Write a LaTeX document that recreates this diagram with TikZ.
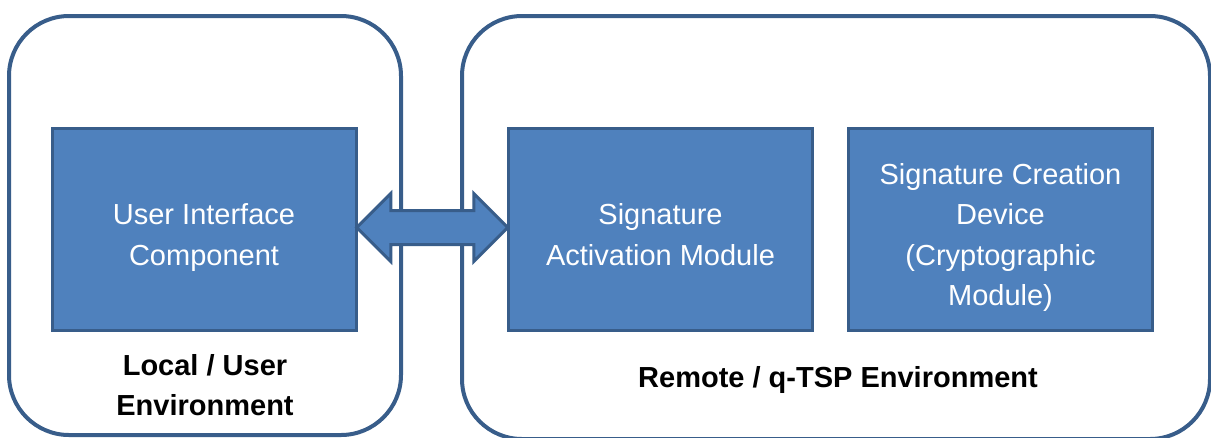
\documentclass[tikz,border=0pt]{standalone}
\usepackage{fontspec}
\setmainfont{Liberation Sans}
\usetikzlibrary{shapes.arrows,calc}

\definecolor{boxfill}{HTML}{4F81BD}
\definecolor{boxline}{HTML}{385D8A}

\tikzset{
    envbox/.style={draw=boxline, line width=4pt, rounded corners=60pt, fill=white},
    comptext/.style={text=white, align=center, yshift=-8.5pt, text depth=6.2pt,
        font=\fontsize{29}{40.5}\selectfont},
    compbox/.style={draw=boxline, line width=3pt, fill=boxfill,
        minimum width=304pt, minimum height=202pt, inner sep=0pt,
        label={[comptext]center:{#1}}},
    envlabel/.style={align=center, font=\fontsize{29}{40.5}\selectfont\bfseries},
}

\begin{document}
\begin{tikzpicture}[x=1pt, y=-1pt]
        \useasboundingbox (0,0) rectangle (1211,437);
        % environments
        \node[envbox, minimum width=392pt, minimum height=419pt] (local) at (205,225.5) {};
        \node[envbox, minimum width=748pt, minimum height=423pt] (remote) at (836,227.5) {};
        % components
        \node[compbox={User Interface\\Component}] (ui) at (204,229) {};
        \node[compbox={Signature\\Activation Module}] (sam) at (660.5,229) {};
        \node[compbox={Signature Creation\\Device\\(Cryptographic\\Module)}] (scd) at (1000.5,229) {};
        % labels
        \node[envlabel] (locallabel) at (205,385) {Local / User\\Environment};
        \node[envlabel] (remotelabel) at (838,380) {Remote / q-TSP Environment};
        % link between ui and sam
        \node[double arrow, draw=boxline, line width=3pt, fill=boxfill, inner xsep=0pt, inner ysep=15.5pt,
            minimum height=151pt, minimum width=65pt, double arrow head extend=17pt]
            (link) at ($(ui.east)!0.5!(sam.west)+(0,-1.5)$) {};
    \end{tikzpicture}
\end{document}
